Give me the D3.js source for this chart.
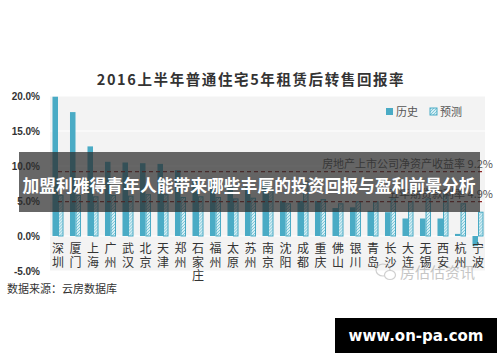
<!DOCTYPE html>
<html>
<head>
<meta charset="utf-8">
<script src="https://cdn.jsdelivr.net/npm/d3@7"></script>
<style>
  body { margin: 0; background: #fff; }
  svg { display: block; font-family: "Noto Sans CJK SC", "Liberation Sans", sans-serif; }
</style>
</head>
<body>
<svg width="500" height="362"></svg>
<script>
// data
var cities = ["深圳","厦门","上海","广州","武汉","北京","天津","郑州","石家庄","福州","太原","苏州","南京",
  "沈阳","成都","重庆","佛山","银川","青岛","长沙","大连","无锡","西安","杭州","宁波"]
var histVals = [19.9, 17.7, 12.8, 10.6, 10.5, 10.4, 10.3, 9.4, 8.0, 7.7, 7.2, 7.0, 7.7,
  5.0, 5.0, 5.0, 4.0, 4.1, 3.6, 3.4, 2.5, 2.5, 2.5, 0.3, -1.4]
var forecastVals = [5.8, 5.8, 5.6, 5.8, 5.7, 5.9, 5.9, 5.5, 5.6, 5.5, 5.3, 5.4, 6.7,
  4.6, 7.8, 5.2, 4.6, 4.9, 4.9, 5.3, 4.9, 5.3, 6.0, 4.6, 3.4]
var refLines = [
  { name: "房地产上市公司净资产收益率", value: 9.2 },
  { name: "五年期贷款利率", value: 4.9 }
]
var yTicks = [-5, 0, 5, 10, 15, 20]
var seriesNames = ["历史", "预测"]

var svg = d3.select("svg")
var teal = "#4aabc5"

var defs = svg.append("defs")
var pat = defs.append("pattern")
    .attr("id", "hatch")
    .attr("patternUnits", "userSpaceOnUse")
    .attr("width", 3).attr("height", 3)
pat.append("rect").attr("width", 3).attr("height", 3).attr("fill", "#d4eef4")
pat.append("path").attr("d", "M0,3 L3,0 M-1,1 L1,-1 M2,4 L4,2")
    .attr("stroke", "#6cbcd1").attr("stroke-width", 0.8)

var x = d3.scaleBand()
    .domain(cities)
    .range([49.25, 486.75])
    .paddingInner(0.37)
    .paddingOuter(0.185)
var x1 = d3.scaleBand().domain(seriesNames).range([0, x.bandwidth()])
var y = d3.scaleLinear().domain([-5, 20]).range([271, 96])

// plot background + grid
svg.append("rect")
    .attr("x", 50).attr("y", y(20))
    .attr("width", 435).attr("height", y(-5) - y(20))
    .attr("fill", "#f3f3f3")
svg.append("g").selectAll("line")
    .data(yTicks)
  .enter().append("line")
    .attr("x1", 50).attr("x2", 485)
    .attr("y1", d => y(d)).attr("y2", d => y(d))
    .attr("stroke", "#ffffff").attr("stroke-width", 1)

// y axis labels
var yAxis = d3.axisLeft(y).tickValues(yTicks).tickSize(0).tickPadding(0)
    .tickFormat(d => d.toFixed(1) + "%")
var ya = svg.append("g").attr("transform", "translate(40,0)").call(yAxis)
ya.select(".domain").remove()
ya.selectAll("text")
    .attr("font-family", "Liberation Sans, Arial, sans-serif")
    .attr("font-size", 10).attr("font-weight", "bold").attr("fill", "#333")

// title
svg.append("text")
    .attr("x", 251).attr("y", 85)
    .attr("text-anchor", "middle")
    .attr("font-size", 14.5).attr("font-weight", "bold")
    .attr("letter-spacing", 1.6)
    .attr("fill", "#333")
    .text("2016上半年普通住宅5年租赁后转售回报率")

// legend
var lg = svg.append("g").attr("transform", "translate(386,108)")
lg.append("rect").attr("width", 7).attr("height", 7).attr("fill", teal)
lg.append("text").attr("x", 10).attr("y", 7.5).attr("font-size", 11).attr("fill", "#555").text(seriesNames[0])
lg.append("rect").attr("x", 44).attr("width", 7).attr("height", 7)
    .attr("fill", "url(#hatch)").attr("stroke", teal).attr("stroke-width", 1)
lg.append("text").attr("x", 54).attr("y", 7.5).attr("font-size", 11).attr("fill", "#555").text(seriesNames[1])

// bars
var groups = svg.append("g").selectAll("g")
    .data(cities)
  .enter().append("g")
    .attr("transform", d => "translate(" + x(d) + ",0)")
groups.append("rect")
    .attr("x", x1("历史"))
    .attr("width", x1.bandwidth())
    .attr("y", (d, i) => y(Math.max(0, histVals[i])))
    .attr("height", (d, i) => Math.abs(y(histVals[i]) - y(0)))
    .attr("fill", teal)
groups.append("rect")
    .attr("x", x1("预测") + 0.5)
    .attr("width", x1.bandwidth() - 1)
    .attr("y", (d, i) => y(forecastVals[i]))
    .attr("height", (d, i) => y(0) - y(forecastVals[i]))
    .attr("fill", "url(#hatch)")
    .attr("stroke", teal).attr("stroke-width", 1)

// category labels, one character per line
groups.append("text")
    .attr("text-anchor", "middle")
    .attr("font-size", 12).attr("fill", "#333")
    .attr("x", x.bandwidth() / 2)
    .selectAll("tspan")
    .data(d => d.split(""))
  .enter().append("tspan")
    .attr("x", x.bandwidth() / 2)
    .attr("y", (c, j) => 253 + j * 13.5)
    .text(c => c)

// reference lines
var ref = svg.append("g").selectAll("g").data(refLines).enter().append("g")
ref.append("line")
    .attr("x1", x(cities[0]) + x.bandwidth() / 2).attr("x2", 485)
    .attr("y1", d => y(d.value)).attr("y2", d => y(d.value))
    .attr("stroke", "#8e2424").attr("stroke-width", 1.2)
    .attr("stroke-dasharray", "4,3")
ref.append("text")
    .attr("x", 493).attr("y", d => y(d.value) - 4)
    .attr("text-anchor", "end")
    .attr("font-size", 11).attr("fill", "#555")
    .text(d => d.name + " " + d.value.toFixed(1) + "%")

// source note
svg.append("text")
    .attr("x", 7).attr("y", 293)
    .attr("font-size", 11).attr("fill", "#333")
    .text("数据来源：云房数据库")

// watermark
var wm = svg.append("g").attr("transform", "translate(376,263)").attr("opacity", 0.55)
wm.append("ellipse").attr("cx", 7).attr("cy", 7).attr("rx", 7).attr("ry", 6)
    .attr("fill", "none").attr("stroke", "#aaa").attr("stroke-width", 1.2)
wm.append("ellipse").attr("cx", 14).attr("cy", 12).attr("rx", 5.5).attr("ry", 4.5)
    .attr("fill", "#fff").attr("stroke", "#aaa").attr("stroke-width", 1.2)
wm.append("text").attr("x", 24).attr("y", 15)
    .attr("font-size", 15).attr("fill", "#999")
    .text("房估估资讯")

// overlay banner
svg.append("rect")
    .attr("x", 19).attr("y", 152).attr("width", 461).attr("height", 60)
    .attr("fill", "rgba(45,45,45,0.72)")
svg.append("text")
    .attr("x", 249).attr("y", 192)
    .attr("text-anchor", "middle")
    .attr("font-size", 16.8).attr("font-weight", "bold")
    .attr("fill", "#fff")
    .text("加盟利雅得青年人能带来哪些丰厚的投资回报与盈利前景分析")

// site tag
svg.append("rect").attr("x", 335).attr("y", 318).attr("width", 162).attr("height", 35).attr("fill", "#000")
svg.append("text")
    .attr("x", 416).attr("y", 341)
    .attr("text-anchor", "middle")
    .attr("font-family", "DejaVu Sans, sans-serif")
    .attr("font-size", 15).attr("font-weight", "bold")
    .attr("fill", "#fff")
    .text("www.on-pa.com")
</script>
</body>
</html>
